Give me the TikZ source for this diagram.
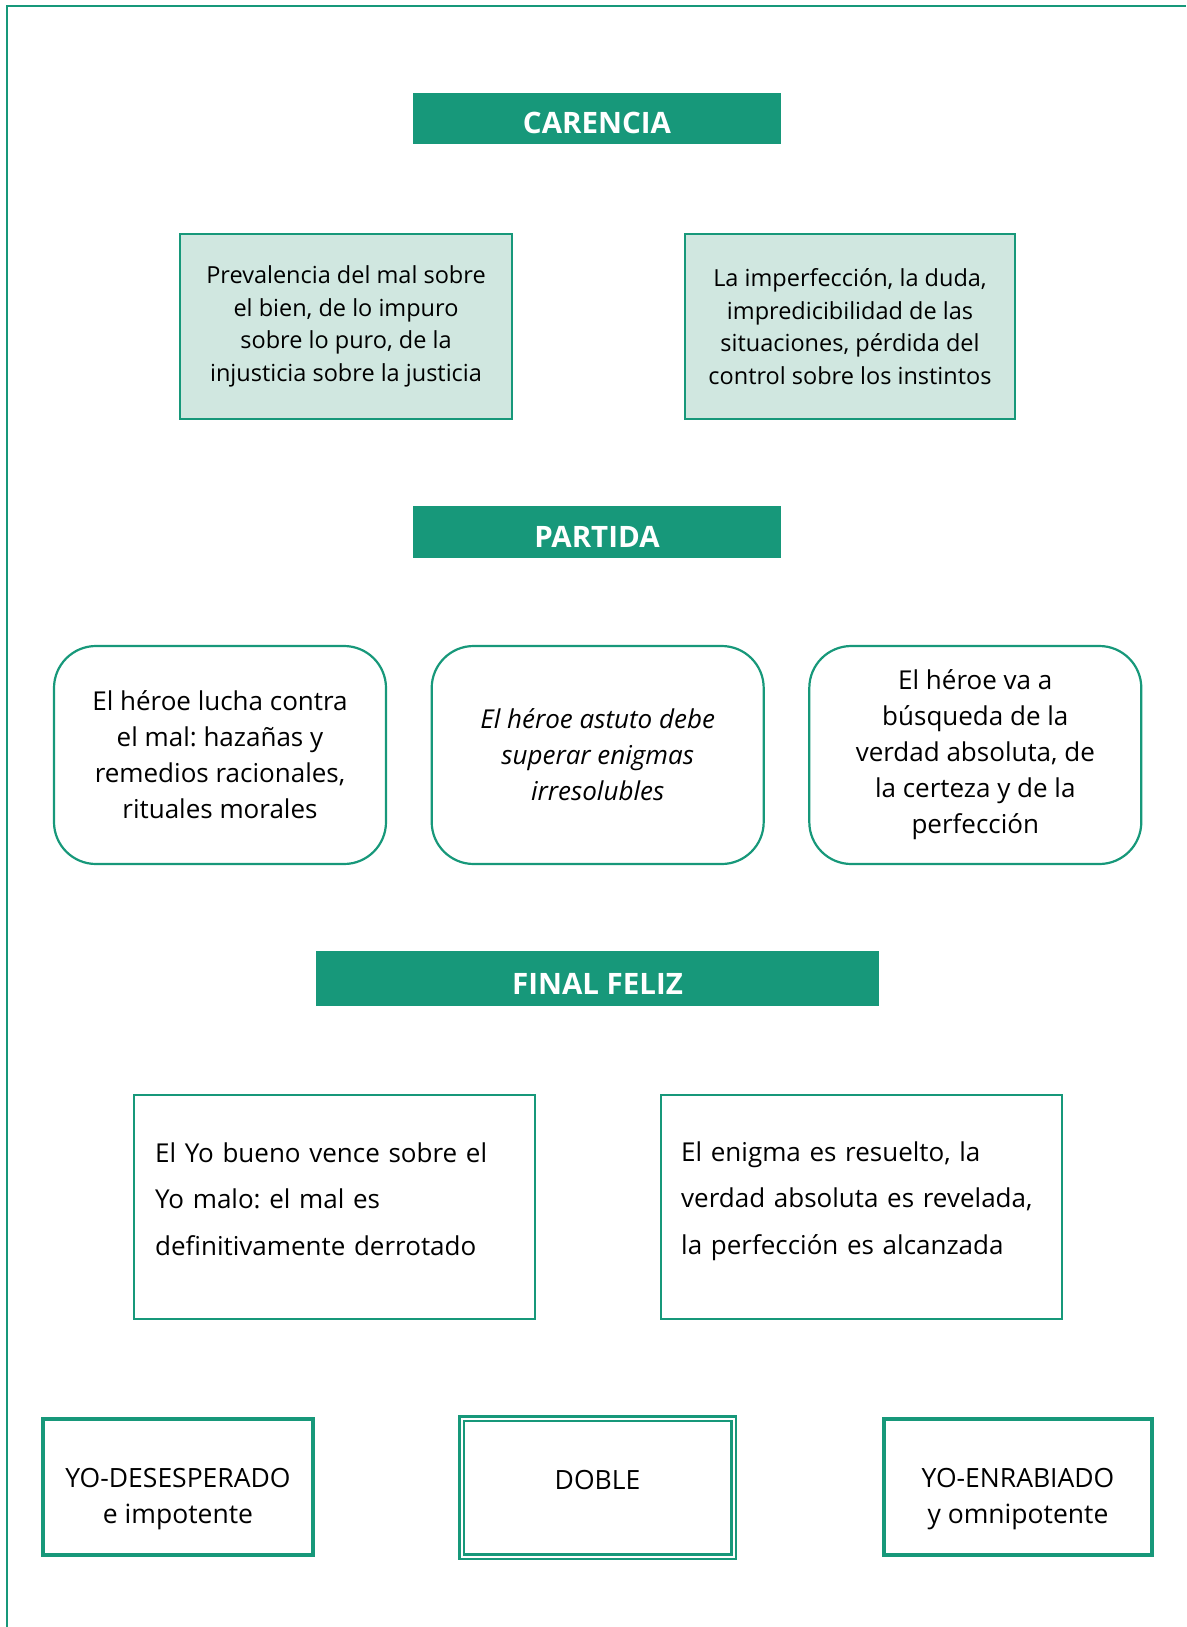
\documentclass[tikz,border=0pt]{standalone}
\usepackage{fontspec}
\setmainfont{Open Sans}
\frenchspacing
\definecolor{tealc}{RGB}{23,152,122}
\definecolor{dotc}{RGB}{208,231,224}
\begin{document}
\begin{tikzpicture}[x=1pt,y=-1pt,
  frame/.style={draw=tealc, line width=2pt},
  header/.style={fill=tealc, inner sep=0pt, text=white, text height=31pt, text depth=0pt, font=\bfseries\fontsize{29.5}{34}\selectfont},
  dotbox/.style={draw=tealc, line width=2pt, fill=dotc, inner sep=0pt, align=center, minimum height=185pt, font=\fontsize{23.5}{32.5}\selectfont},
  roundbox/.style={draw=tealc, line width=2.2pt, rounded corners=42pt, inner sep=0pt, align=center, minimum width=332pt, minimum height=218pt, font=\fontsize{26}{36}\selectfont},
  plainbox/.style={draw=tealc, line width=2pt, inner sep=0pt, minimum width=401pt, minimum height=224pt},
  thickbox/.style={draw=tealc, line width=4pt, inner sep=0pt, minimum height=136pt},
  dblbox/.style={draw=tealc, line width=2.5pt, double=white, double distance=2pt, inner sep=0pt},
  ftext/.style={inner sep=0pt, align=left, text width=370pt, font=\fontsize{26}{46.5}\selectfont},
  btext/.style={inner sep=0pt, align=center, font=\fontsize{26.5}{36}\selectfont}
]
\useasboundingbox (0,0) rectangle (1186,1627);
\draw[frame] (7,1627) -- (7,6) -- (1186,6);

% CARENCIA
\node[header, minimum width=368pt, minimum height=51pt] (carencia) at (597,118.5) {CARENCIA};
\node[dotbox, minimum width=332pt] (car1) at (346,326.5)
  {Prevalencia del mal sobre\\el bien, de lo impuro\\sobre lo puro, de la\\injusticia sobre la justicia};
\node[dotbox, minimum width=330pt] (car2) at (850,326.5)
  {La imperfección, la duda,\\impredicibilidad de las\\situaciones, pérdida del\\control sobre los instintos};

% PARTIDA
\node[header, minimum width=368pt, minimum height=52pt] (partida) at (597,532.3) {PARTIDA};
\node[roundbox] (par1) at (220,755)
  {El héroe lucha contra\\el mal: hazañas y\\remedios racionales,\\rituales morales};
\node[roundbox, font=\itshape\fontsize{26}{36}\selectfont] (par2) at (597.7,755)
  {El héroe astuto debe\\superar enigmas\\irresolubles};
\node[roundbox] (par3) at (975.3,755)
  {El héroe va a\\búsqueda de la\\verdad absoluta, de\\la certeza y de la\\perfección};

% FINAL FELIZ
\node[header, minimum width=563pt, minimum height=55pt] (final) at (597.5,978.5) {FINAL FELIZ};
\node[plainbox] (fin1) at (334.5,1207) {};
\node[plainbox] (fin2) at (861.5,1207) {};
\node[ftext, anchor=west] (fin1t) at (155,1199)
  {El Yo bueno vence sobre el\\Yo malo: el mal es\\definitivamente derrotado};
\node[ftext, anchor=west] (fin2t) at (681,1201)
  {El enigma es resuelto, la\\verdad absoluta es revelada,\\la perfección es alcanzada};

% Bottom row
\node[thickbox, minimum width=270pt] (yodes) at (178,1487) {};
\node[btext] (yodest) at (178,1499) {YO-DESESPERADO\\e impotente};
\node[dblbox, minimum width=272pt, minimum height=138pt] (doble) at (597.5,1487.5) {};
\node[btext] (doblet) at (597.5,1480) {DOBLE};
\node[thickbox, minimum width=268pt] (yoenr) at (1018,1487) {};
\node[btext] (yoenrt) at (1018,1499) {YO-ENRABIADO\\y omnipotente};
\end{tikzpicture}
\end{document}
